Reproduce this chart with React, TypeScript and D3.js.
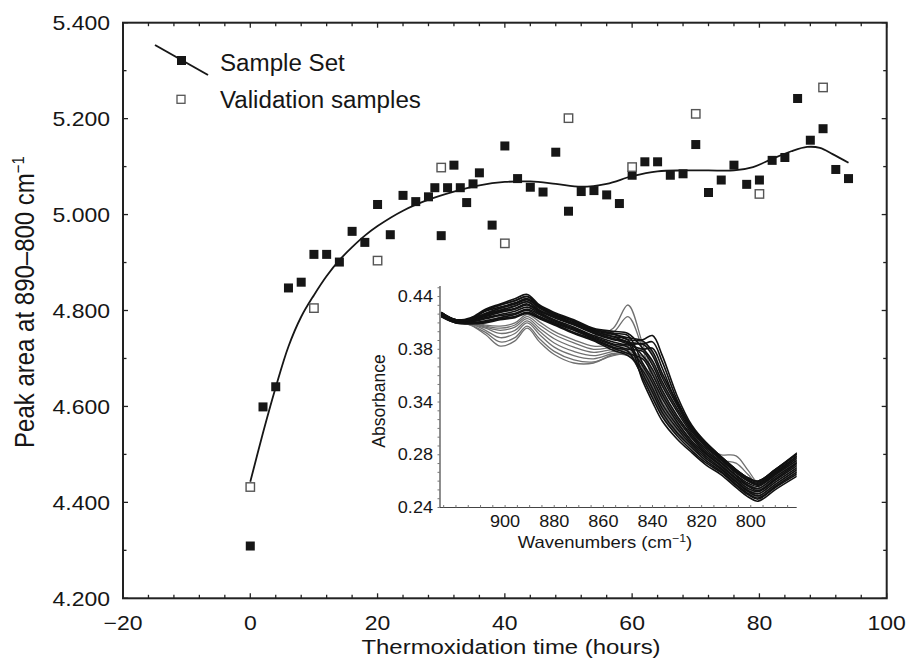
import React from "react";
import * as d3 from "d3";

// ---------- main chart data ----------
const sampleTime = [0, 2, 4, 6, 8, 10, 12, 14, 16, 18, 20, 22, 24, 26, 28, 29, 30, 31, 32, 33, 34, 35, 36, 38, 40, 42, 44, 46, 48, 50, 52, 54, 56, 58, 60, 62, 64, 66, 68, 70, 72, 74, 76, 78, 80, 82, 84, 86, 88, 90, 92, 94];
const sampleValue = [4.309, 4.599, 4.641, 4.847, 4.859, 4.917, 4.917, 4.901, 4.965, 4.942, 5.021, 4.958, 5.040, 5.027, 5.037, 5.056, 4.956, 5.056, 5.103, 5.056, 5.025, 5.064, 5.087, 4.978, 5.143, 5.075, 5.057, 5.047, 5.130, 5.007, 5.048, 5.050, 5.041, 5.023, 5.082, 5.110, 5.110, 5.082, 5.085, 5.146, 5.046, 5.072, 5.103, 5.063, 5.072, 5.113, 5.119, 5.242, 5.155, 5.179, 5.094, 5.075];
const validationTime = [0, 10, 20, 30, 40, 50, 60, 70, 80, 90];
const validationValue = [4.432, 4.805, 4.904, 5.098, 4.940, 5.201, 5.099, 5.210, 5.043, 5.265];
const fitTime = [0, 2, 4, 6, 8, 10, 12, 14, 16, 18, 20, 24, 28, 32, 36, 40, 44, 48, 52, 56, 60, 64, 68, 72, 76, 79, 82, 85, 87.5, 89.5, 91.5, 94];
const fitValue = [4.443, 4.545, 4.640, 4.725, 4.787, 4.832, 4.872, 4.905, 4.932, 4.956, 4.976, 5.008, 5.031, 5.048, 5.061, 5.068, 5.069, 5.064, 5.058, 5.064, 5.080, 5.090, 5.092, 5.092, 5.092, 5.099, 5.116, 5.132, 5.141, 5.139, 5.126, 5.108];
const xTickValues = [-20, 0, 20, 40, 60, 80, 100];
const yTickValues = [4.2, 4.4, 4.6, 4.8, 5.0, 5.2, 5.4];

// ---------- inset (spectra) data, absorbance x 1000 ----------
const wavenumbers = [926, 920, 914, 908, 902, 896, 891, 886, 880, 872, 864, 856, 850, 844, 840, 836, 830, 824, 818, 812, 806, 801, 797, 790, 781];
const darkSpectraMilli = [
  [425, 418, 420, 428, 433, 438, 442, 432, 425, 418, 410, 407, 405, 391, 379, 359, 334, 312, 297, 285, 273, 265, 261, 272, 287],
  [425, 418, 419, 427, 432, 436, 440, 431, 424, 417, 409, 405, 403, 377, 362, 343, 321, 303, 290, 279, 267, 258, 255, 266, 280],
  [424, 418, 419, 426, 430, 434, 438, 430, 423, 416, 408, 404, 401, 398, 388, 367, 340, 316, 301, 288, 276, 268, 265, 276, 291],
  [424, 417, 418, 424, 429, 433, 437, 429, 422, 415, 407, 402, 399, 367, 349, 330, 311, 297, 284, 274, 262, 253, 249, 260, 274],
  [423, 417, 418, 423, 427, 431, 435, 427, 421, 414, 406, 400, 397, 384, 371, 351, 327, 308, 293, 282, 270, 261, 258, 269, 283],
  [423, 417, 417, 422, 426, 429, 433, 426, 420, 413, 405, 399, 396, 360, 340, 322, 305, 292, 280, 271, 259, 250, 246, 257, 270],
  [423, 416, 417, 421, 425, 428, 432, 425, 418, 411, 403, 397, 394, 395, 384, 363, 337, 314, 299, 286, 274, 266, 263, 274, 289],
  [422, 416, 416, 420, 423, 426, 430, 424, 417, 410, 402, 395, 392, 374, 358, 338, 318, 301, 288, 277, 265, 256, 253, 264, 278],
  [422, 416, 416, 419, 422, 424, 428, 423, 416, 409, 401, 394, 390, 388, 375, 355, 331, 310, 295, 283, 271, 263, 260, 271, 285],
  [422, 416, 415, 417, 420, 423, 427, 421, 415, 408, 400, 392, 388, 363, 344, 326, 308, 294, 282, 273, 261, 252, 248, 259, 272],
  [421, 415, 415, 416, 419, 421, 425, 420, 414, 406, 399, 391, 386, 381, 366, 347, 324, 306, 291, 280, 268, 260, 256, 267, 282],
  [421, 415, 414, 415, 418, 420, 424, 419, 413, 405, 398, 389, 384, 370, 353, 334, 315, 299, 286, 276, 264, 255, 251, 262, 276],
  [425, 418, 419, 427, 432, 436, 440, 431, 424, 417, 409, 405, 399, 399, 403, 384, 346, 318, 301, 288, 276, 268, 265, 276, 292],
  [424, 417, 418, 424, 429, 433, 437, 429, 422, 415, 407, 402, 397, 395, 397, 378, 342, 316, 299, 287, 275, 267, 264, 275, 291],
  [423, 417, 418, 423, 427, 431, 435, 427, 421, 414, 406, 400, 395, 390, 391, 372, 338, 314, 297, 285, 273, 265, 262, 273, 289],
];
const graySpectraMilli = [
  [423, 416, 413, 404, 393, 398, 410, 397, 385, 377, 377, 385, 384, 372, 355, 336, 317, 301, 288, 278, 266, 257, 253, 264, 278],
  [423, 416, 413, 406, 397, 401, 412, 400, 388, 380, 378, 384, 385, 365, 346, 328, 310, 296, 284, 275, 263, 254, 250, 261, 274],
  [423, 416, 414, 408, 401, 405, 415, 404, 392, 384, 381, 386, 387, 383, 368, 349, 326, 308, 293, 282, 270, 262, 258, 269, 284],
  [423, 417, 414, 410, 405, 408, 417, 407, 396, 388, 384, 388, 389, 369, 351, 332, 313, 299, 286, 276, 264, 255, 251, 262, 276],
  [423, 417, 415, 411, 408, 411, 419, 410, 400, 392, 387, 390, 391, 390, 377, 357, 333, 312, 297, 285, 273, 265, 262, 273, 287],
  [424, 417, 415, 412, 410, 413, 421, 413, 404, 396, 390, 392, 393, 376, 360, 340, 320, 303, 290, 279, 267, 258, 255, 266, 280],
  [424, 417, 416, 413, 412, 415, 423, 416, 407, 399, 393, 394, 395, 397, 386, 365, 339, 316, 301, 288, 276, 268, 265, 276, 291],
  [423, 416, 417, 421, 425, 428, 432, 425, 418, 411, 403, 410, 432, 395, 368, 349, 326, 306, 292, 281, 270, 262, 258, 268, 284],
  [422, 416, 416, 419, 422, 424, 428, 423, 416, 409, 401, 406, 421, 390, 362, 345, 322, 303, 289, 279, 268, 260, 257, 266, 282],
  [422, 416, 415, 417, 420, 423, 427, 421, 415, 408, 400, 392, 388, 368, 350, 332, 314, 306, 296, 290, 289, 275, 264, 272, 288],
  [421, 415, 415, 416, 419, 421, 425, 420, 414, 406, 399, 391, 386, 364, 346, 328, 310, 302, 292, 285, 282, 271, 262, 270, 285],
];
const insetXTicks = [900, 880, 860, 840, 820, 800];
const insetYTicks = [0.24, 0.29, 0.34, 0.39, 0.44];
const insetYTickLabels = ["0.24", "0.28", "0.34", "0.38", "0.44"];

const FONT = "'Liberation Sans', Arial, Helvetica, sans-serif";
const INK = "#161616";

function HText(props: { x: number; y: number; size: number; sx: number; anchor?: string; children: React.ReactNode }) {
  const { x, y, size, sx, anchor = "start", children } = props;
  return (
    <text transform={`translate(${x},${y}) scale(${sx},1)`} fontSize={size} fontFamily={FONT} textAnchor={anchor} fill={INK}>
      {children}
    </text>
  );
}

export default function App() {
  const L = 123, R = 886.7, T = 22.7, B = 598.3;
  const X = d3.scaleLinear().domain([-20, 100]).range([L, R]);
  const Y = d3.scaleLinear().domain([4.2, 5.4]).range([B, T]);

  const xMinor = d3.range(-20, 101, 4);
  const yMinor = d3.range(0, 13).map((i) => 4.2 + i * 0.1);

  const fitLine = d3
    .line<number>()
    .x((_, i) => X(fitTime[i]))
    .y((d) => Y(d))
    .curve(d3.curveCatmullRom.alpha(0.5))(fitValue) as string;

  // inset
  const IL = 440, IR = 796.7, IT = 286, IB = 507.5;
  const IX = d3.scaleLinear().domain([926.5, 781.3]).range([IL, IR]);
  const IY = d3.scaleLinear().domain([0.24, 0.45]).range([IB, IT]);
  const specLine = d3
    .line<number>()
    .x((_, i) => IX(wavenumbers[i]))
    .y((d) => IY(d / 1000))
    .curve(d3.curveCatmullRom.alpha(0.5));
  const insetYMinor = d3.range(0, 26).map((i) => 0.24 + (i * 0.05) / 6);
  const insetXMinor = d3.range(925, 781, -5);

  const sq = 9;
  const fmtY = d3.format(".3f");

  return (
    <svg width={907} height={670} style={{ position: "absolute", left: 0, top: 0, background: "#fff" }}>
      <rect x={0} y={0} width={907} height={670} fill="#fff" />

      {/* frame */}
      <rect x={L} y={T} width={R - L} height={B - T} fill="none" stroke="#222" strokeWidth={2} />

      {/* ticks */}
      {xMinor.map((v) => {
        const len = v % 20 === 0 ? 5 : 3.5;
        return (
          <g key={"xt" + v}>
            <line x1={X(v)} x2={X(v)} y1={B} y2={B - len} stroke="#222" strokeWidth={1.3} />
            <line x1={X(v)} x2={X(v)} y1={T} y2={T + len} stroke="#222" strokeWidth={1.3} />
          </g>
        );
      })}
      {yMinor.map((v, i) => {
        const len = i % 2 === 0 ? 5 : 3.5;
        return (
          <g key={"yt" + i}>
            <line x1={L} x2={L + len} y1={Y(v)} y2={Y(v)} stroke="#222" strokeWidth={1.3} />
            <line x1={R} x2={R - len} y1={Y(v)} y2={Y(v)} stroke="#222" strokeWidth={1.3} />
          </g>
        );
      })}

      {/* tick labels */}
      {yTickValues.map((v) => (
        <HText key={"yl" + v} x={110} y={Y(v) + 7.2} size={20} sx={1.15} anchor="end">
          {fmtY(v)}
        </HText>
      ))}
      {xTickValues.map((v) => (
        <HText key={"xl" + v} x={X(v)} y={629.5} size={20} sx={1.15} anchor="middle">
          {v < 0 ? "\u2212" + Math.abs(v) : String(v)}
        </HText>
      ))}

      {/* axis titles */}
      <HText x={511} y={653.5} size={21} sx={1.14} anchor="middle">
        Thermoxidation time (hours)
      </HText>
      <text transform="translate(34,302) scale(1.15,1) rotate(-90)" fontSize={24} fontFamily={FONT} textAnchor="middle" fill={INK}>
        Peak area at 890–800 cm
        <tspan fontSize={15} dy={-9}>−1</tspan>
      </text>

      {/* fitted curve */}
      <path d={fitLine} fill="none" stroke={INK} strokeWidth={1.8} />

      {/* points */}
      {sampleTime.map((t, i) => (
        <rect key={"s" + i} x={X(t) - sq / 2} y={Y(sampleValue[i]) - sq / 2} width={sq} height={sq} fill={INK} />
      ))}
      {validationTime.map((t, i) => (
        <rect key={"v" + i} x={X(t) - 4.2} y={Y(validationValue[i]) - 4.2} width={8.4} height={8.4} fill="#fff" stroke="#555" strokeWidth={1.4} />
      ))}

      {/* legend */}
      <line x1={155} y1={45} x2={208} y2={75} stroke={INK} strokeWidth={2} />
      <rect x={181.5 - sq / 2} y={60.5 - sq / 2} width={sq} height={sq} fill={INK} />
      <HText x={220} y={71} size={23} sx={1.05}>Sample Set</HText>
      <rect x={181 - 4} y={99.3 - 4} width={8} height={8} fill="#fff" stroke="#555" strokeWidth={1.3} />
      <HText x={220} y={108} size={23} sx={1.05}>Validation samples</HText>

      {/* ---------- inset ---------- */}
      <defs>
        <clipPath id="insetClip">
          <rect x={IL} y={IT - 10} width={IR - IL} height={IB - IT + 10} />
        </clipPath>
      </defs>
      <g clipPath="url(#insetClip)">
        {graySpectraMilli.map((s, i) => (
          <path key={"g" + i} d={specLine(s) as string} fill="none" stroke="#707070" strokeWidth={1.3} />
        ))}
        {darkSpectraMilli.map((s, i) => (
          <path key={"d" + i} d={specLine(s) as string} fill="none" stroke="#111" strokeWidth={1.6} />
        ))}
      </g>
      <line x1={IL} x2={IL} y1={IT} y2={IB} stroke="#444" strokeWidth={1.2} />
      <line x1={IL} x2={IR} y1={IB} y2={IB} stroke="#444" strokeWidth={1.2} />
      {insetYMinor.map((v, i) => (
        <line key={"iym" + i} x1={IL - 2.5} x2={IL} y1={IY(v)} y2={IY(v)} stroke="#777" strokeWidth={1} />
      ))}
      {insetXMinor.map((v) => (
        <line key={"ixm" + v} x1={IX(v)} x2={IX(v)} y1={IB} y2={IB - 2.5} stroke="#777" strokeWidth={1} />
      ))}
      {insetYTicks.map((v, i) => (
        <HText key={"iyl" + i} x={433} y={IY(v) + 5.5} size={16} sx={1.13} anchor="end">
          {insetYTickLabels[i]}
        </HText>
      ))}
      {insetXTicks.map((v) => (
        <HText key={"ixl" + v} x={IX(v)} y={527.3} size={16} sx={1.13} anchor="middle">
          {String(v)}
        </HText>
      ))}
      <text transform="translate(605,548) scale(1.12,1)" fontSize={16.5} fontFamily={FONT} textAnchor="middle" fill={INK}>
        Wavenumbers (cm
        <tspan fontSize={11} dy={-6}>−1</tspan>
        <tspan dy={6}>)</tspan>
      </text>
      <text transform="translate(385,401) scale(1.05,1) rotate(-90)" fontSize={17.5} fontFamily={FONT} textAnchor="middle" fill={INK}>
        Absorbance
      </text>
    </svg>
  );
}
